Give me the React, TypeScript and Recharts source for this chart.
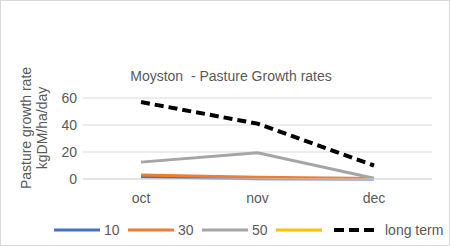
import React from 'react';
import { LineChart, Line, XAxis, YAxis, CartesianGrid } from 'recharts';

const months = ['oct', 'nov', 'dec'];
const s10 = [1.7, 0.2, 0];
const s30 = [3, 1.3, 0.4];
const s50 = [12.5, 19.5, 0.5];
const s70: (number | null)[] = [null, null, null];
const longTerm = [57, 41, 10];
const yTicks = [0, 20, 40, 60];

const series = [
  { key: 's10', name: '10', color: '#4472C4', dash: undefined },
  { key: 's30', name: '30', color: '#ED7D31', dash: undefined },
  { key: 's50', name: '50', color: '#A5A5A5', dash: undefined },
  { key: 's70', name: '', color: '#FFC000', dash: undefined },
  { key: 'longTerm', name: 'long term', color: '#000000', dash: '9 5' },
];

const data = months.map((m, i) => ({
  month: m,
  s10: s10[i],
  s30: s30[i],
  s50: s50[i],
  s70: s70[i],
  longTerm: longTerm[i],
}));

const FONT = '"Liberation Sans", Arial, sans-serif';
const TEXT = '#595959';

const legendPos = [
  { line: 54, text: 104 },
  { line: 128, text: 178 },
  { line: 202, text: 252 },
  { line: 276, text: 326 },
  { line: 334, text: 385 },
];

const App: React.FC = () => {
  return (
    <div
      style={{
        position: 'absolute',
        left: 0,
        top: 0,
        width: 450,
        height: 246,
        background: '#fff',
        fontFamily: FONT,
      }}
    >
      <div
        style={{
          position: 'absolute',
          left: 0,
          top: 0,
          width: 448,
          height: 244,
          border: '1px solid #d9d9d9',
        }}
      />
      <div
        style={{
          position: 'absolute',
          left: 0,
          width: 462,
          top: 68,
          textAlign: 'center',
          fontSize: 14,
          color: TEXT,
        }}
      >
        Moyston&nbsp; - Pasture Growth rates
      </div>
      <div
        style={{
          position: 'absolute',
          left: 38 - 70,
          top: 128 - 20,
          width: 140,
          height: 40,
          transform: 'rotate(-90deg)',
          textAlign: 'center',
          fontSize: 14,
          lineHeight: '16px',
          color: TEXT,
        }}
      >
        Pasture growth rate
        <br />
        kgDM/ha/day
      </div>
      <div style={{ position: 'absolute', left: 0, top: 0 }}>
        <LineChart
          width={450}
          height={246}
          data={data}
          margin={{ top: 98, right: 18, left: 0, bottom: 36 }}
        >
          <CartesianGrid vertical={false} stroke="#d9d9d9" />
          <XAxis
            dataKey="month"
            height={31}
            padding={{ left: 58, right: 58 }}
            axisLine={{ stroke: '#d9d9d9' }}
            tickLine={false}
            tickSize={0}
            tickMargin={14}
            tick={{ fill: TEXT, fontSize: 14, fontFamily: FONT }}
          />
          <YAxis
            width={83}
            domain={[0, 60]}
            ticks={yTicks}
            axisLine={false}
            tickLine={false}
            tickSize={0}
            tickMargin={6}
            tick={{ fill: TEXT, fontSize: 14, fontFamily: FONT }}
          />
          {series.map((s) => (
            <Line
              key={s.key}
              dataKey={s.key}
              name={s.name}
              stroke={s.color}
              strokeWidth={s.dash ? 4 : 3}
              strokeDasharray={s.dash}
              dot={false}
              activeDot={false}
              isAnimationActive={false}
            />
          ))}
        </LineChart>
      </div>
      <svg
        width={450}
        height={246}
        style={{ position: 'absolute', left: 0, top: 0, pointerEvents: 'none' }}
      >
        {series.map((s, i) => (
          <g key={s.key}>
            <line
              x1={legendPos[i].line}
              x2={legendPos[i].line + (s.dash ? 41 : 46)}
              y1={230}
              y2={230}
              stroke={s.color}
              strokeWidth={s.dash ? 4 : 3}
              strokeDasharray={s.dash ? '10 5' : undefined}
            />
            <text
              x={legendPos[i].text}
              y={235}
              fontSize={14}
              fill={TEXT}
              fontFamily={FONT}
            >
              {s.name}
            </text>
          </g>
        ))}
      </svg>
    </div>
  );
};

export default App;
